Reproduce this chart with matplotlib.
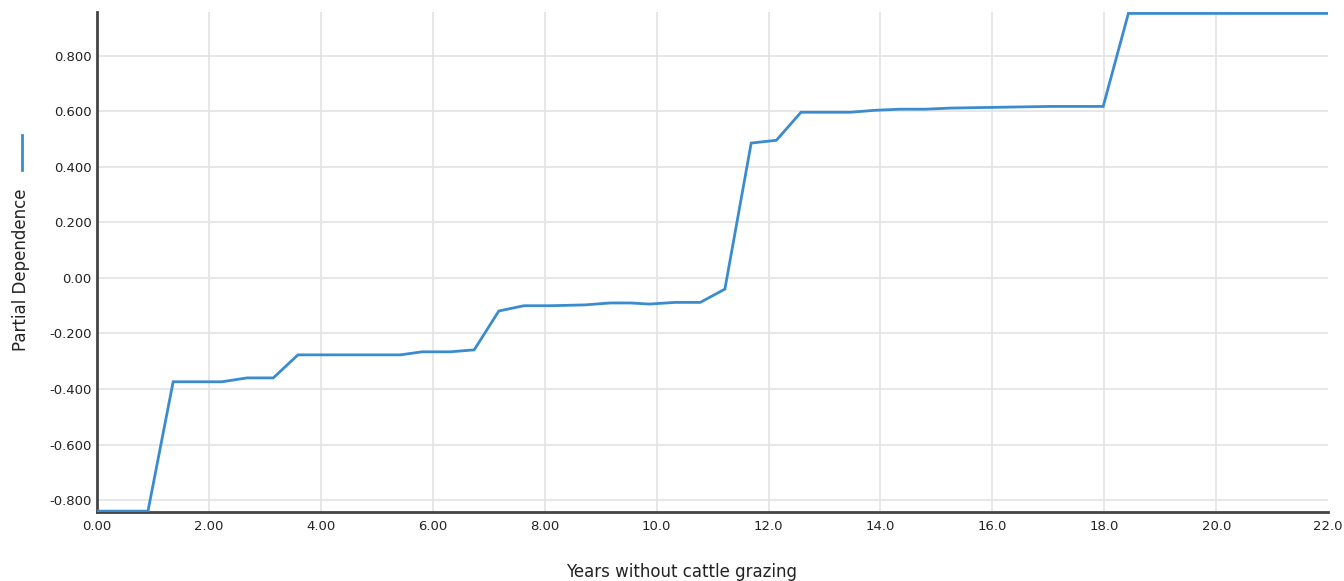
import matplotlib
matplotlib.use("Agg")
import matplotlib.pyplot as plt
from matplotlib.lines import Line2D
from matplotlib.ticker import FixedLocator, FixedFormatter

# Partial dependence of the model output on years without cattle grazing
years = [0.00, 0.91, 1.36, 2.23, 2.68, 3.15, 3.59, 5.42, 5.81, 6.31, 6.74,
         7.18, 7.63, 8.10, 8.72, 9.17, 9.53, 9.87, 10.33, 10.78, 11.22,
         11.69, 12.14, 12.58, 13.46, 13.90, 14.35, 14.80, 15.25, 16.14,
         17.03, 17.98, 18.43, 19.71, 22.00]
partial_dep = [-0.840, -0.840, -0.374, -0.374, -0.360, -0.360, -0.277, -0.277,
               -0.266, -0.266, -0.259, -0.119, -0.100, -0.100, -0.097, -0.090,
               -0.090, -0.094, -0.088, -0.088, -0.040, 0.486, 0.496, 0.597,
               0.597, 0.604, 0.608, 0.608, 0.612, 0.615, 0.618, 0.618, 0.953,
               0.953, 0.953]

x_ticks = [0, 2, 4, 6, 8, 10, 12, 14, 16, 18, 20, 22]
x_labels = ["0.00", "2.00", "4.00", "6.00", "8.00", "10.0", "12.0", "14.0",
            "16.0", "18.0", "20.0", "22.0"]
y_ticks = [-0.8, -0.6, -0.4, -0.2, 0.0, 0.2, 0.4, 0.6, 0.8]
y_labels = ["-0.800", "-0.600", "-0.400", "-0.200", "0.00", "0.200", "0.400",
            "0.600", "0.800"]

line_color = "#3a8ccf"

fig = plt.figure(figsize=(13.44, 5.81), dpi=100)
ax = fig.add_axes([0.0722, 0.1188, 0.916, 0.860])

ax.plot(years, partial_dep, color=line_color, linewidth=2, zorder=3,
        solid_joinstyle="miter")

ax.set_xlim(0, 22)
ax.set_ylim(-0.843, 0.957)
ax.xaxis.set_major_locator(FixedLocator(x_ticks))
ax.xaxis.set_major_formatter(FixedFormatter(x_labels))
ax.yaxis.set_major_locator(FixedLocator(y_ticks))
ax.yaxis.set_major_formatter(FixedFormatter(y_labels))
ax.tick_params(axis="both", length=0, labelsize=9.5, colors="#222222")
ax.tick_params(axis="y", pad=4)
ax.tick_params(axis="x", pad=6)

ax.grid(True, color="#e3e3e3", linewidth=1.2)
ax.set_axisbelow(True)
# no gridline on the right edge
ax.get_xgridlines()[-1].set_visible(False)
for side in ("top", "right"):
    ax.spines[side].set_visible(False)
for side in ("left", "bottom"):
    ax.spines[side].set_color("#444444")
    ax.spines[side].set_linewidth(2)

fig.text(0.507, 1 - 572 / 581, "Years without cattle grazing", ha="center",
         va="center", fontsize=12, color="#222222")
fig.text(0.0155, 1 - 270 / 581, "Partial Dependence", rotation=90,
         ha="center", va="center", fontsize=12, color="#222222")

# small vertical legend swatch beside the y label
fig.add_artist(Line2D([0.0164, 0.0164], [1 - 135 / 581, 1 - 170 / 581],
                      color=line_color, linewidth=2, transform=fig.transFigure))

fig.savefig("out.png", dpi=100)
